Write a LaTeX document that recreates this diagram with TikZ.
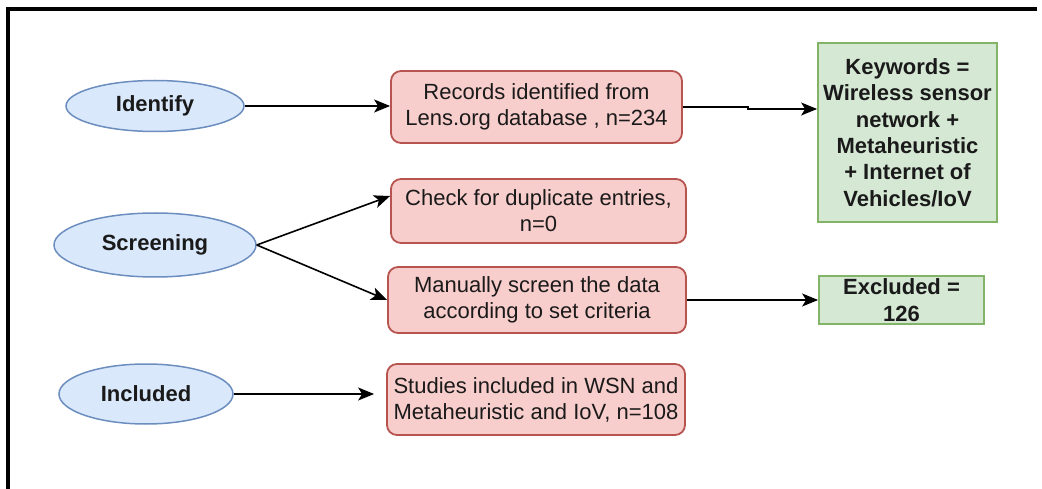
\documentclass[tikz,border=0pt]{standalone}
\usepackage{fontspec}
\setmainfont{Liberation Sans}
\usetikzlibrary{shapes.geometric,arrows.meta,calc}
\definecolor{stagefill}{HTML}{DAE8FC}
\definecolor{stageline}{HTML}{6C8EBF}
\definecolor{recfill}{HTML}{F8CECC}
\definecolor{recline}{HTML}{B85450}
\definecolor{notefill}{HTML}{D5E8D4}
\definecolor{noteline}{HTML}{82B366}
\definecolor{ink}{HTML}{1A1A1A}
\begin{document}
\begin{tikzpicture}[x=1pt,y=-1pt,
  stage/.style={ellipse,draw=stageline,fill=stagefill,line width=1.5pt,inner sep=0pt,
    text=ink,font=\bfseries\fontsize{22}{26}\selectfont},
  recbox/.style={rectangle,rounded corners=10pt,draw=recline,fill=recfill,line width=1.8pt,
    inner sep=0pt,align=center,text=ink,font=\fontsize{22}{26}\selectfont},
  notebox/.style={rectangle,draw=noteline,fill=notefill,line width=1.8pt,inner sep=0pt,
    align=center,text=ink,font=\bfseries\fontsize{22}{26.5}\selectfont},
  flow/.style={line width=1.6pt,-{Stealth[length=16pt,width=13pt,inset=4pt]}}]
\useasboundingbox (0,0) rectangle (1042,489);
\fill[white] (0,0) rectangle (1042,489);

% page frame (top and left edges)
\draw[line width=3.5pt] (8,489) -- (8,9) -- (1037,9);

% stages
\node[stage,minimum width=178pt,minimum height=51pt] (idf) at (155,106) {Identify};
\node[stage,minimum width=202pt,minimum height=64pt] (scr) at (155,245) {Screening};
\node[stage,minimum width=174pt,minimum height=60pt] (inc) at (146,394) {Included};

% process steps
\node[recbox,minimum width=291pt,minimum height=72pt] (rec) at (536.5,107)
  {Records identified from\\Lens.org database , n=234};
\node[recbox,minimum width=295pt,minimum height=64pt] (chk) at (538.5,211)
  {Check for duplicate entries,\\n=0};
\node[recbox,minimum width=298pt,minimum height=66pt] (man) at (537,300)
  {Manually screen the data\\according to set criteria};
\node[recbox,minimum width=298pt,minimum height=71pt] (stu) at (536,399.5)
  {Studies included in WSN and\\Metaheuristic and IoV, n=108};

% notes
\node[notebox,minimum width=179pt,minimum height=179pt] (kw) at (907.5,132.5)
  {Keywords =\\Wireless sensor\\network +\\Metaheuristic\\+ Internet of\\Vehicles/IoV};
\node[notebox,minimum width=165pt,minimum height=48pt] (exc) at (901.5,300)
  {Excluded =\\126};

% connectors
\coordinate (j) at (748,109);
\draw[flow] (idf.east) -- (idf.east -| rec.west);
\draw[flow] (rec.east) -- (rec.east -| j) -- (j) -- (j -| kw.west);
\draw[flow] (scr.east) -- ($(chk.west)+(0,-15)$);
\draw[flow] (scr.east) -- (man.west);
\draw[flow] (man.east) -- (exc.west);
\draw[flow,shorten >=12pt] (inc.east) -- (inc.east -| stu.west);
\end{tikzpicture}
\end{document}
